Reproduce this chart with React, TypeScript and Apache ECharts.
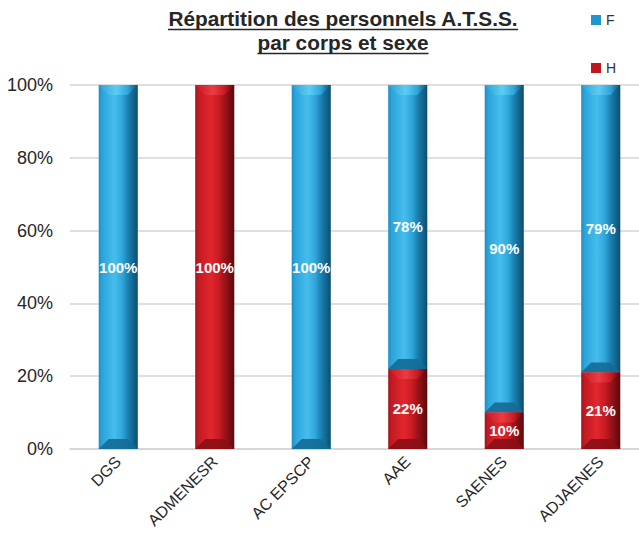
import React, { useEffect, useRef } from "react";
import * as echarts from "echarts";

// Corps (catégories de l'axe horizontal)
const corps = ["DGS", "ADMENESR", "AC EPSCP", "AAE", "SAENES", "ADJAENES"];
// Part des femmes (F) et des hommes (H), en %
const femmes = [100, 0, 100, 78, 90, 79];
const hommes = [0, 100, 0, 22, 10, 21];
// Graduations de l'axe vertical
const yTicks = [0, 20, 40, 60, 80, 100];

const TITLE_1 = "Répartition des personnels A.T.S.S.";
const TITLE_2 = "par corps et sexe";
const FONT = "'Liberation Sans', Arial, Helvetica, sans-serif";

type Palette = { side: string[]; top: string; bottom: string; legend: string };

const BLUE: Palette = {
  side: ["#1d8cc3", "#2aa3da", "#46bdec", "#2fa7dc", "#1b80b1", "#0b4e6f"],
  top: "#5fcdf3",
  bottom: "#136b96",
  legend: "#1f96cf",
};
const RED: Palette = {
  side: ["#a3121a", "#c21a22", "#e2262e", "#c91c24", "#9e1319", "#5a090c"],
  top: "#ee3c43",
  bottom: "#8a0f14",
  legend: "#c0161e",
};

function textWidth(text: string, font: string): number {
  const ctx = document.createElement("canvas").getContext("2d");
  if (!ctx) return text.length * 10;
  ctx.font = font;
  return ctx.measureText(text).width;
}

function bevelRenderer(pal: Palette) {
  return (params: any, api: any) => {
    const idx = api.value(0);
    const base = api.value(1);
    const val = api.value(2);
    if (!val) return null;
    const pTop = api.coord([idx, base + val]);
    const pBot = api.coord([idx, base]);
    const bw = api.size([1, 0])[0] * 0.405;
    const x0 = pTop[0] - bw / 2;
    const x1 = pTop[0] + bw / 2;
    const yT = pTop[1];
    const yB = pBot[1];
    const h = yB - yT;
    const b = Math.min(10, h / 2.5);
    const stops = pal.side.map((c, i) => ({
      offset: [0, 0.08, 0.4, 0.6, 0.75, 1][i],
      color: c,
    }));
    const children: any[] = [
      {
        type: "rect",
        shape: { x: x0, y: yT, width: bw, height: h },
        style: { fill: new echarts.graphic.LinearGradient(0, 0, 1, 0, stops) },
      },
      {
        type: "polygon",
        shape: {
          points: [
            [x0, yT],
            [x1, yT],
            [x1 - b, yT + b],
            [x0 + b, yT + b],
          ],
        },
        style: {
          fill: new echarts.graphic.LinearGradient(0, 0, 1, 0, [
            { offset: 0, color: pal.side[1] },
            { offset: 0.45, color: pal.top },
            { offset: 0.75, color: pal.side[3] },
            { offset: 1, color: pal.side[5] },
          ]),
          opacity: 0.95,
        },
      },
      {
        type: "polygon",
        shape: {
          points: [
            [x0, yB],
            [x1, yB],
            [x1 - b, yB - b],
            [x0 + b, yB - b],
          ],
        },
        style: { fill: pal.bottom, opacity: 0.9 },
      },
      {
        type: "text",
        style: {
          text: val + "%",
          x: pTop[0],
          y: (yT + yB) / 2,
          align: "center",
          verticalAlign: "middle",
          fill: "#ffffff",
          font: `bold 15px ${FONT}`,
        },
      },
    ];
    return { type: "group", children };
  };
}

export default function App() {
  const ref = useRef<HTMLDivElement>(null);

  useEffect(() => {
    document.body.style.margin = "0";
    if (!ref.current) return;
    const chart = echarts.init(ref.current, undefined, { renderer: "svg" });

    const titleFont = `bold 20px ${FONT}`;
    const sx = 1.04;
    const w1 = textWidth(TITLE_1, titleFont) * sx;
    const w2 = textWidth(TITLE_2, titleFont) * sx;
    const cx = 343;

    chart.setOption({
      animation: false,
      backgroundColor: "#ffffff",
      grid: {
        left: 70,
        width: 579,
        top: 85,
        bottom: 84,
        outerBoundsMode: "none",
        containLabel: false,
      },
      legend: {
        orient: "vertical",
        left: 591,
        top: 13,
        padding: 0,
        itemWidth: 10,
        itemHeight: 10,
        itemGap: 34,
        icon: "rect",
        textStyle: { color: "#333333", fontSize: 14, fontFamily: FONT },
        data: ["F", "H"],
      },
      graphic: [
        {
          type: "text",
          x: cx,
          y: 9,
          scaleX: sx,
          style: {
            text: TITLE_1,
            font: titleFont,
            fill: "#262626",
            align: "center",
          },
        },
        {
          type: "line",
          shape: { x1: cx - w1 / 2, y1: 29.5, x2: cx + w1 / 2, y2: 29.5 },
          style: { stroke: "#262626", lineWidth: 1.6 },
        },
        {
          type: "text",
          x: cx,
          y: 33,
          scaleX: sx,
          style: {
            text: TITLE_2,
            font: titleFont,
            fill: "#262626",
            align: "center",
          },
        },
        {
          type: "line",
          shape: { x1: cx - w2 / 2, y1: 53.5, x2: cx + w2 / 2, y2: 53.5 },
          style: { stroke: "#262626", lineWidth: 1.6 },
        },
      ],
      xAxis: {
        type: "category",
        data: corps,
        axisLine: { lineStyle: { color: "#d4d4d4", width: 1.5 } },
        axisTick: { show: false },
        axisLabel: {
          rotate: 45,
          margin: 10,
          color: "#262626",
          fontSize: 16,
          fontFamily: FONT,
          interval: 0,
        },
      },
      yAxis: {
        type: "value",
        min: yTicks[0],
        max: yTicks[yTicks.length - 1],
        interval: yTicks[1] - yTicks[0],
        axisLine: { show: false },
        axisTick: { show: false },
        splitLine: { lineStyle: { color: "#d4d4d4", width: 1.5 } },
        axisLabel: {
          formatter: "{value}%",
          margin: 17,
          color: "#262626",
          fontSize: 18,
          fontFamily: FONT,
        },
      },
      series: [
        {
          name: "F",
          type: "custom",
          itemStyle: { color: BLUE.legend },
          renderItem: bevelRenderer(BLUE),
          encode: { x: 0, y: [1, 2] },
          data: corps.map((_, i) => [i, hommes[i], femmes[i]]),
        },
        {
          name: "H",
          type: "custom",
          itemStyle: { color: RED.legend },
          renderItem: bevelRenderer(RED),
          encode: { x: 0, y: [1, 2] },
          data: corps.map((_, i) => [i, 0, hommes[i]]),
        },
      ],
    });

    return () => chart.dispose();
  }, []);

  return <div ref={ref} style={{ width: 639, height: 533 }} />;
}
